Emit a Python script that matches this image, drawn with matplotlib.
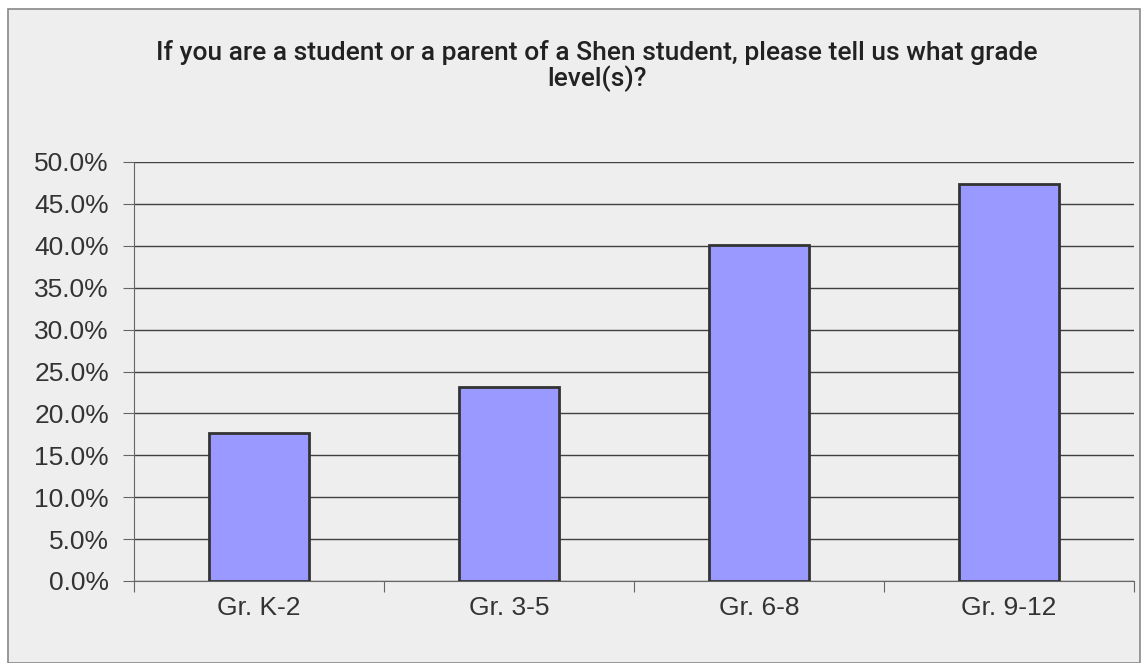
import matplotlib.pyplot as plt
from matplotlib.patches import Rectangle
from matplotlib.ticker import FuncFormatter, MultipleLocator

categories = ["Gr. K-2", "Gr. 3-5", "Gr. 6-8", "Gr. 9-12"]
shares = [17.7, 23.2, 40.1, 47.4]

title = ("If you are a student or a parent of a Shen student, please tell us what grade\n"
         "level(s)?")

plt.rcParams["font.family"] = ["Liberation Sans", "DejaVu Sans"]

fig = plt.figure(figsize=(11.42, 6.63), dpi=100)
fig.patch.set_facecolor("white")
fig.patches.append(Rectangle((8 / 1142, 0), 1132 / 1142, 654 / 663, transform=fig.transFigure,
                             facecolor="#eeeeee", edgecolor="#888888", linewidth=1.2, zorder=-1))

ax = fig.add_axes([134 / 1142, 82 / 663, 1000 / 1142, 419 / 663])
ax.patch.set_alpha(0)

x = list(range(len(categories)))
ax.bar(x, shares, width=0.4, color="#9999ff", edgecolor="#333333", linewidth=2, zorder=3)

ax.set_xlim(-0.5, len(categories) - 0.5)
ax.set_ylim(0, 50)
ax.yaxis.set_major_locator(MultipleLocator(5))
ax.yaxis.set_major_formatter(FuncFormatter(lambda v, _: f"{v:.1f}%"))
ax.grid(axis="y", color="#404040", linewidth=1, zorder=0)

ax.set_xticks([i - 0.5 for i in range(len(categories) + 1)], minor=False)
ax.set_xticklabels([])
ax.set_xticks(x, minor=True)
ax.set_xticklabels(categories, minor=True)
ax.tick_params(axis="x", which="minor", length=0, labelsize=19, colors="#333333", pad=11)
ax.tick_params(axis="x", which="major", length=8, color="#666666")
ax.tick_params(axis="y", length=8, color="#666666", labelsize=19, labelcolor="#333333", pad=10)

for side in ["top", "right"]:
    ax.spines[side].set_visible(False)
ax.spines["left"].set_color("#666666")
ax.spines["bottom"].set_color("#666666")

# title block sits right of the figure centre in the original
fig.text(597 / 1142, 1 - 66 / 663, title, ha="center", va="center", fontsize=19, fontweight="medium",
         family=["Roboto", "DejaVu Sans"], color="#222222", linespacing=1.05)

fig.savefig("out.png", dpi=100)
